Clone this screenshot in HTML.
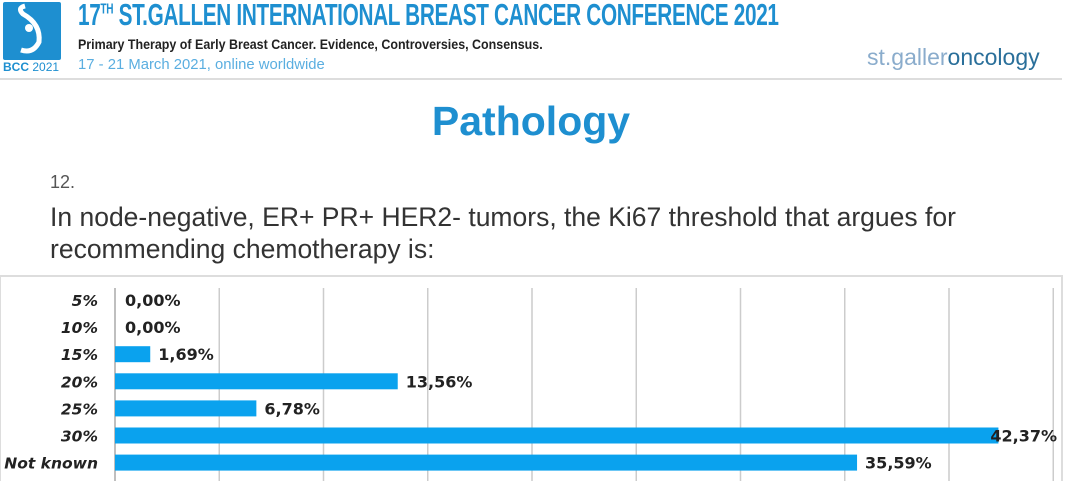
<!DOCTYPE html>
<html><head><meta charset="utf-8"><style>
body{margin:0;width:1070px;height:481px;background:#fff;overflow:hidden;font-family:"Liberation Sans",sans-serif;position:relative}
.a{position:absolute;white-space:nowrap}
</style></head><body>
<div class="a" style="left:3px;top:2px;width:58px;height:58px;background:#1e8fd0;border-radius:2px">
<svg width="58" height="58"><path d="M22 4 Q14 6 20 12 Q38 22 36 40 Q30 52 18 48" stroke="#fff" stroke-width="5" fill="none"/><circle cx="26" cy="26" r="4" fill="#fff"/></svg></div>
<div class="a" style="left:3px;top:60px;font-size:12px;color:#1e8fd0;font-weight:bold">BCC <span style="font-weight:normal">2021</span></div>
<div class="a" style="left:78px;top:-3px;font-size:31px;font-weight:bold;color:#1e8fd0;transform:scaleX(0.67);transform-origin:left;letter-spacing:-0.5px">17<sup style="font-size:15px">TH</sup> ST.GALLEN INTERNATIONAL BREAST CANCER CONFERENCE 2021</div>
<div class="a" style="left:78px;top:36px;font-size:14px;font-weight:bold;color:#222;transform:scaleX(0.89);transform-origin:left">Primary Therapy of Early Breast Cancer. Evidence, Controversies, Consensus.</div>
<div class="a" style="left:78px;top:56px;font-size:15px;color:#5aaee0;transform:scaleX(0.99);transform-origin:left">17 - 21 March 2021, online worldwide</div>
<div class="a" style="left:867px;top:44px;font-size:23px;color:#8aaccc">st.galler<span style="color:#2a6f9a">oncology</span></div>
<div class="a" style="left:0;top:78px;width:1062px;height:2px;background:#ddd"></div>
<div class="a" style="left:0;width:1062px;text-align:center;top:98px;font-size:41px;font-weight:bold;color:#1e8fd0">Pathology</div>
<div class="a" style="left:50px;top:172px;font-size:18px;color:#555">12.</div>
<div class="a" style="left:50px;top:201px;font-size:26.5px;line-height:32px;color:#333">In node-negative, ER+ PR+ HER2- tumors, the Ki67 threshold that argues for<br>recommending chemotherapy is:</div>
<svg class="a" style="left:0;top:0" width="1070" height="481" id="chart"></svg>
<script>
const categories=["5%","10%","15%","20%","25%","30%","Not known"];
const values=[0,0,1.69,13.56,6.78,42.37,35.59];
const labels=["0,00%","0,00%","1,69%","13,56%","6,78%","42,37%","35,59%"];
const ticks=[0,5,10,15,20,25,30,35,40,45];
const svg=document.getElementById('chart');const NS='http://www.w3.org/2000/svg';
const x0=115,sc=20.85,y0=300,step=27.1;
const X=v=>x0+v*sc,Y=i=>y0+i*step;
function mk(t,a){const e=document.createElementNS(NS,t);for(const k in a)e.setAttribute(k,a[k]);svg.appendChild(e);return e;}
const box=mk('rect',{x:0,y:276,width:1062,height:210,fill:'none',stroke:'#ddd','stroke-width':2});


ticks.forEach(t=>{const l=mk('line',{x1:X(t),x2:X(t),y1:288,y2:481,stroke:t==0?'#aaa':'#ccc','stroke-width':1.5});

});
categories.forEach((c,i)=>{
const t=mk('text',{x:98,y:Y(i)+6,'text-anchor':'end','font-size':15.5,'font-weight':'bold','font-style':'italic',fill:'#222','font-family':'DejaVu Sans, sans-serif'});t.textContent=c;


if(values[i]>0){const r=mk('rect',{x:x0,y:Y(i)-8,width:values[i]*sc,height:16,fill:'#0aa2ee'});

}
const lx=values[i]>40?X(values[i])-8:X(values[i])+8+(values[i]==0?2:0);
const v=mk('text',{x:lx,y:Y(i)+6,'font-size':16,'font-weight':'bold',fill:'#222','font-family':'DejaVu Sans, sans-serif'});v.textContent=labels[i];

});
</script>
</body></html>
